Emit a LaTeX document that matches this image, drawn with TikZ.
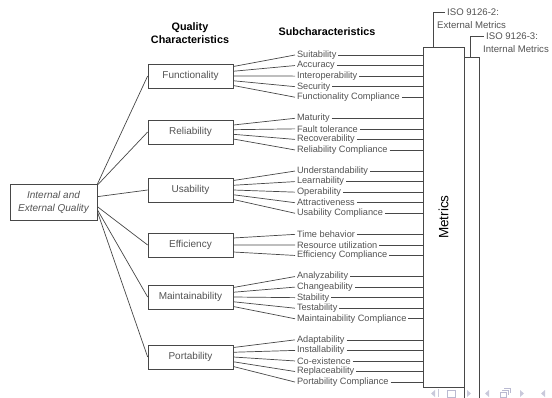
\documentclass[tikz,border=0pt]{standalone}
\usepackage{fontspec}
\setmainfont{Liberation Sans}
\usetikzlibrary{calc}
\begin{document}
\begin{tikzpicture}[x=1pt,y=-1pt,
  ln/.style={draw=black!72, line width=0.7pt},
  sub/.style={font=\fontsize{9.2}{10}\selectfont, text=black!68, inner xsep=1.8pt, inner ysep=0pt, anchor=west},
  charbox/.style={draw=black!72, line width=0.7pt, minimum width=85pt, minimum height=24pt, inner sep=0pt, font=\fontsize{10}{12}\selectfont, text=black!68},
  rootbox/.style={draw=black!72, line width=0.7pt, minimum width=87pt, minimum height=36pt, inner sep=0pt, align=center, font=\itshape\fontsize{10}{13}\selectfont, text=black!68},
  head/.style={font=\bfseries\fontsize{10.8}{13}\selectfont, align=center, inner sep=0pt},
  isolbl/.style={font=\fontsize{9.6}{11}\selectfont, text=black!68, inner xsep=2pt, inner ysep=0pt, anchor=west},
  navi/.style={fill=blue!20!gray!35, draw=none}
]
\useasboundingbox (0,0) rectangle (552,397);

% metric boxes
\node[draw=black!72, line width=0.7pt, minimum width=15pt, minimum height=345pt, inner sep=0pt] (imet) at (471.5,229.5) {};
\node[draw=black!72, fill=white, line width=0.7pt, minimum width=41pt, minimum height=340pt, inner sep=0pt] (met) at (443.5,217) {};
\node[rotate=90, font=\fontsize{13.5}{15}\selectfont, inner sep=0pt] (mettext) at (met.center) {Metrics};

% ISO labels
\node[isolbl] (iso2) at (445,12) {ISO 9126-2:};
\node[isolbl, inner xsep=0pt] (ext) at (437,25) {External Metrics};
\node[isolbl] (iso3) at (484,36) {ISO 9126-3:};
\node[isolbl, inner xsep=0pt] (int) at (483,49) {Internal Metrics};
\draw[ln] ($(met.north west)+(10.5,0)$) |- (iso2.west);
\draw[ln] ($(imet.north)+(-1,0)$) |- (iso3.west);

% headers
\node[head] (hq) at (190,33) {Quality\\Characteristics};
\node[head] (hs) at (327,32) {Subcharacteristics};

% root
\node[rootbox] (iq) at (53.5,202) {Internal and\\External Quality};

% characteristics
\node[charbox] (fun) at (190.5,76) {Functionality};
\node[charbox] (rel) at (190.5,132) {Reliability};
\node[charbox] (usa) at (190.5,190) {Usability};
\node[charbox] (eff) at (190.5,245) {Efficiency};
\node[charbox] (mai) at (190.5,297) {Maintainability};
\node[charbox] (por) at (190.5,357) {Portability};

\draw[ln] ($(iq.north east)+(0,0.5)$) -- (fun.west);
\draw[ln] ($(iq.north east)+(0,1.5)$) -- (rel.west);
\draw[ln] ($(iq.north east)+(0,13)$) -- (usa.west);
\draw[ln] ($(iq.north east)+(0,23)$) -- (eff.west);
\draw[ln] ($(iq.north east)+(0,26)$) -- (mai.west);
\draw[ln] ($(iq.north east)+(0,28)$) -- (por.west);

% subcharacteristics
\foreach \i/\t/\y/\o in {1/Suitability/55/-9.5, 2/Accuracy/65.55/-4.75, 3/Interoperability/76.1/0, 4/Security/86.65/4.75, 5/Functionality Compliance/97.2/9.5}{
  \node[sub] (f\i) at (295,\y) {\t};
  \draw[ln] ($(fun.east)+(0,\o)$) -- (f\i.west);
  \draw[ln] (f\i.east) -- (f\i.east -| met.west);
}
\foreach \i/\t/\y/\o in {1/Maturity/118.3/-7, 2/Fault tolerance/128.85/-2.3, 3/Recoverability/139.4/2.3, 4/Reliability Compliance/149.95/7}{
  \node[sub] (r\i) at (295,\y) {\t};
  \draw[ln] ($(rel.east)+(0,\o)$) -- (r\i.west);
  \draw[ln] (r\i.east) -- (r\i.east -| met.west);
}
\foreach \i/\t/\y/\o in {1/Understandability/171.05/-9.5, 2/Learnability/181.6/-4.75, 3/Operability/192.15/0, 4/Attractiveness/202.7/4.75, 5/Usability Compliance/213.25/9.5}{
  \node[sub] (u\i) at (295,\y) {\t};
  \draw[ln] ($(usa.east)+(0,\o)$) -- (u\i.west);
  \draw[ln] (u\i.east) -- (u\i.east -| met.west);
}
\foreach \i/\t/\y/\o in {1/Time behavior/234.35/-7, 2/Resource utilization/244.9/0, 3/Efficiency Compliance/255.45/7}{
  \node[sub] (e\i) at (295,\y) {\t};
  \draw[ln] ($(eff.east)+(0,\o)$) -- (e\i.west);
  \draw[ln] (e\i.east) -- (e\i.east -| met.west);
}
\foreach \i/\t/\y/\o in {1/Analyzability/276.55/-9.5, 2/Changeability/287.1/-4.75, 3/Stability/297.65/0, 4/Testability/308.2/4.75, 5/Maintainability Compliance/318.75/9.5}{
  \node[sub] (m\i) at (295,\y) {\t};
  \draw[ln] ($(mai.east)+(0,\o)$) -- (m\i.west);
  \draw[ln] (m\i.east) -- (m\i.east -| met.west);
}
\foreach \i/\t/\y/\o in {1/Adaptability/339.85/-9.5, 2/Installability/350.4/-4.75, 3/Co-existence/360.95/0, 4/Replaceability/371.5/4.75, 5/Portability Compliance/382.05/9.5}{
  \node[sub] (p\i) at (295,\y) {\t};
  \draw[ln] ($(por.east)+(0,\o)$) -- (p\i.west);
  \draw[ln] (p\i.east) -- (p\i.east -| met.west);
}

% navigation symbols (partially visible)
\fill[navi] (435,390) -- (431,393.5) -- (435,397) -- cycle;
\fill[navi] (437.5,389) rectangle (438.5,397);
\draw[draw=blue!20!gray!45, line width=0.7pt] (447,390) rectangle (455,397.5);
\fill[navi] (467,390) -- (471,393.5) -- (467,397) -- cycle;
\fill[navi] (489,390) -- (485,393.5) -- (489,397) -- cycle;
\draw[draw=blue!20!gray!45, line width=0.7pt] (500,392) rectangle (506,397.5) (502,390) -- (508,390) -- (508,395) (504,388) -- (510,388) -- (510,393);
\fill[navi] (520,390) -- (524,393.5) -- (520,397) -- cycle;
\fill[navi] (545,390) -- (541,393.5) -- (545,397) -- cycle;
\end{tikzpicture}
\end{document}
